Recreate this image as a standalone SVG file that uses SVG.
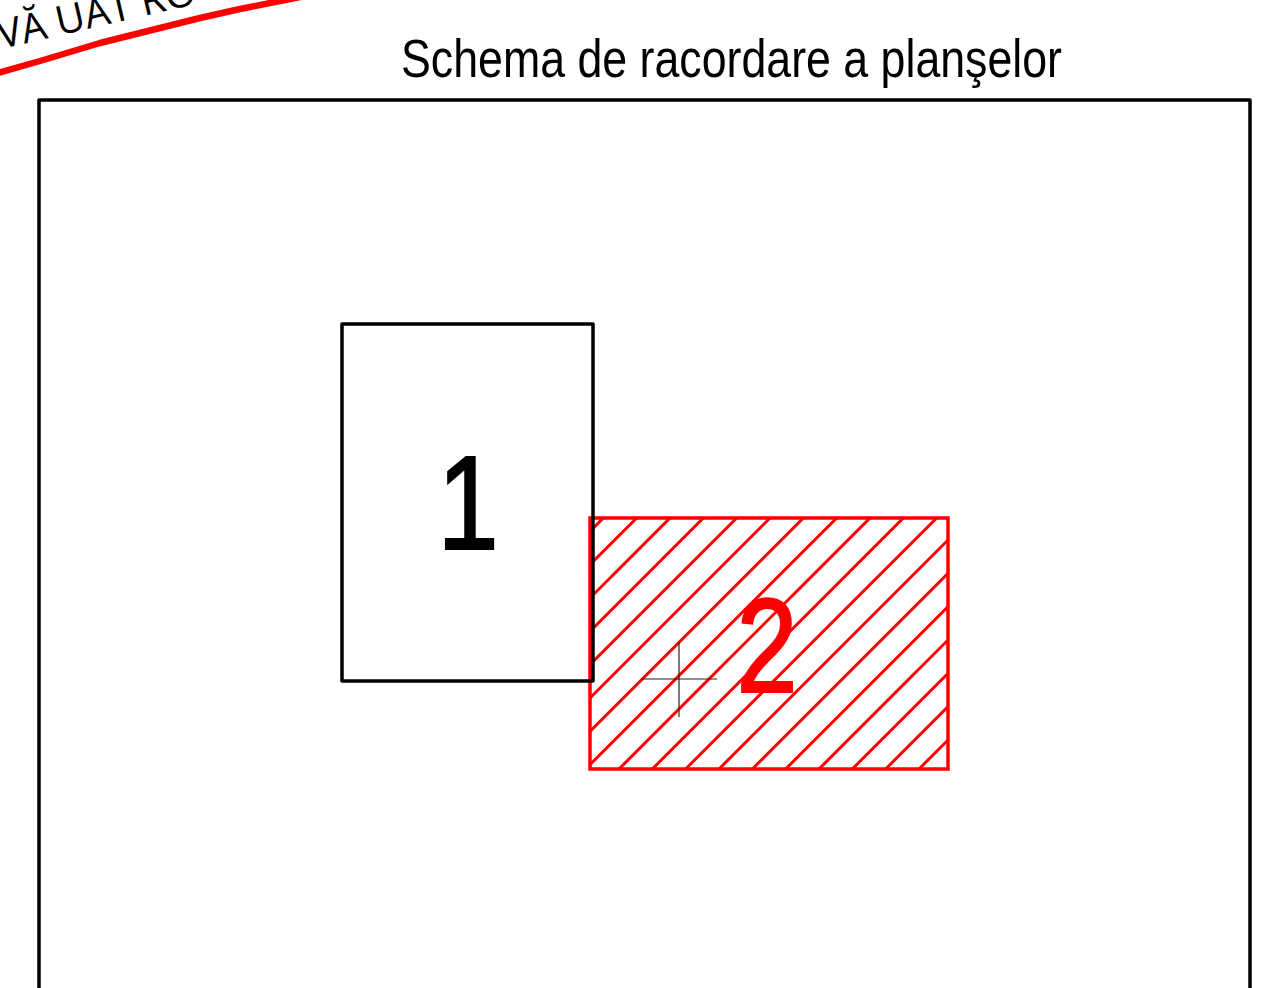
<svg xmlns="http://www.w3.org/2000/svg" width="1261" height="988" viewBox="0 0 1261 988">
<style>
.blk{fill:none;stroke:#000;stroke-width:3.5;stroke-linejoin:round}
.red{fill:none;stroke:#ff0000;stroke-width:3.5}
.hatch{stroke:#ff0000;stroke-width:3}
.num{font-family:"Liberation Sans",Arial,sans-serif;font-size:134px;text-anchor:middle;stroke-width:2.2}
</style>
<defs>
<clipPath id="c2"><rect x="590" y="518" width="358" height="251"/></clipPath>
</defs>
<g id="stamp">
<text transform="translate(1,49) rotate(-13)" font-family="'Open Sans','Noto Sans',sans-serif" font-size="40" fill="#000">VĂ UAT RO</text>
<path d="M-2,73 L40,61 L100,43 L160,28 L200,18 L240,9 L300,-3" fill="none" stroke="#ff0000" stroke-width="6.5" stroke-linejoin="round"/>
</g>
<g id="title">
<text x="401" y="77" font-family="'Liberation Sans Narrow','Liberation Sans',Arial,sans-serif" font-size="53" textLength="661" lengthAdjust="spacingAndGlyphs">Schema de racordare a planşelor</text>
</g>
<g id="frame">
<rect class="blk" x="39" y="100" width="1211" height="920"/>
</g>
<g id="node2">
<g clip-path="url(#c2)" class="hatch">
<line x1="321.33" y1="800" x2="641.33" y2="480"/>
<line x1="354.67" y1="800" x2="674.67" y2="480"/>
<line x1="388" y1="800" x2="708" y2="480"/>
<line x1="421.33" y1="800" x2="741.33" y2="480"/>
<line x1="454.67" y1="800" x2="774.67" y2="480"/>
<line x1="488" y1="800" x2="808" y2="480"/>
<line x1="521.33" y1="800" x2="841.33" y2="480"/>
<line x1="554.67" y1="800" x2="874.67" y2="480"/>
<line x1="588" y1="800" x2="908" y2="480"/>
<line x1="621.33" y1="800" x2="941.33" y2="480"/>
<line x1="654.67" y1="800" x2="974.67" y2="480"/>
<line x1="688" y1="800" x2="1008" y2="480"/>
<line x1="721.33" y1="800" x2="1041.33" y2="480"/>
<line x1="754.67" y1="800" x2="1074.67" y2="480"/>
<line x1="788" y1="800" x2="1108" y2="480"/>
<line x1="821.33" y1="800" x2="1141.33" y2="480"/>
<line x1="854.67" y1="800" x2="1174.67" y2="480"/>
<line x1="888" y1="800" x2="1208" y2="480"/>
</g>
<rect class="red" x="590" y="518" width="358" height="251"/>
<g transform="translate(767,692) scale(0.82,1)"><text class="num" x="0" y="0" fill="#ff0000" stroke="#ff0000">2</text></g>
</g>
<g id="node1">
<rect class="blk" x="342" y="324" width="251" height="357"/>
<g transform="translate(468,549) scale(0.82,1)"><text class="num" x="0" y="0" fill="#000" stroke="#000">1</text></g>
</g>
<g id="marker">
<line x1="641" y1="679" x2="717" y2="679" stroke="#222" stroke-width="1.2"/>
<line x1="679" y1="642" x2="679" y2="717" stroke="#222" stroke-width="1.2"/>
</g>
<g id="connectors"/>
</svg>
